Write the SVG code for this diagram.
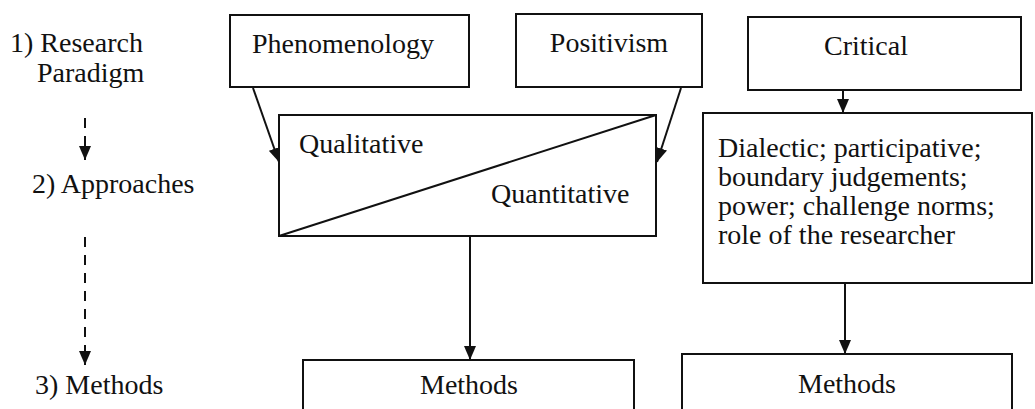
<svg xmlns="http://www.w3.org/2000/svg" width="1035" height="409" viewBox="0 0 1035 409">
  <style>
    .t { font-family: 'Times New Roman', Times, 'Liberation Serif', 'DejaVu Serif', serif; font-size: 28px; fill: #111; }
    .box { fill: #fff; stroke: #111; stroke-width: 2; }
    .wire { fill: none; stroke: #111; stroke-width: 2; }
    .dash { stroke-dasharray: 10 8; }
    .mid { text-anchor: middle; }
  </style>
  <defs>
    <marker id="head" viewBox="0 0 14 12" refX="14" refY="6" markerWidth="14" markerHeight="12" markerUnits="userSpaceOnUse" orient="auto">
      <path d="M0,0 L14,6 L0,12 z" fill="#111"/>
    </marker>
  </defs>
  <rect width="1035" height="409" fill="#fff"/>

  <!-- level labels -->
  <g id="labels" class="t">
    <text x="10" y="52">1) Research</text>
    <text x="37" y="82">Paradigm</text>
    <text x="32" y="193">2) Approaches</text>
    <text x="35" y="394">3) Methods</text>
  </g>

  <!-- connectors -->
  <g id="connectors">
    <line class="wire dash" x1="85" y1="118" x2="85" y2="160" marker-end="url(#head)"/>
    <line class="wire dash" x1="85" y1="237" x2="85" y2="365" marker-end="url(#head)"/>
    <line class="wire" x1="253" y1="88" x2="279" y2="162" marker-end="url(#head)"/>
    <line class="wire" x1="681" y1="88" x2="657" y2="162" marker-end="url(#head)"/>
    <line class="wire" x1="843" y1="90" x2="843" y2="113" marker-end="url(#head)"/>
    <line class="wire" x1="470" y1="236" x2="470" y2="360" marker-end="url(#head)"/>
    <line class="wire" x1="845" y1="283" x2="845" y2="354" marker-end="url(#head)"/>
  </g>

  <g id="phenomenology" class="t">
    <rect class="box" x="230" y="15" width="239" height="72"/>
    <text x="252" y="53">Phenomenology</text>
  </g>

  <g id="positivism" class="t">
    <rect class="box" x="516" y="14" width="186" height="73"/>
    <text x="609" y="52" class="mid">Positivism</text>
  </g>

  <g id="critical" class="t">
    <rect class="box" x="748" y="17" width="273" height="73"/>
    <text x="866" y="55" class="mid">Critical</text>
  </g>

  <g id="approaches" class="t">
    <rect class="box" x="279" y="115" width="377" height="121"/>
    <line class="wire" x1="279" y1="236" x2="656" y2="115"/>
    <text x="299" y="153">Qualitative</text>
    <text x="491" y="203">Quantitative</text>
  </g>

  <g id="critical-approach" class="t">
    <rect class="box" x="703" y="113" width="329" height="170"/>
    <text x="718" y="157">Dialectic; participative;</text>
    <text x="718" y="186">boundary judgements;</text>
    <text x="718" y="215">power; challenge norms;</text>
    <text x="718" y="244">role of the researcher</text>
  </g>

  <g id="methods-left" class="t">
    <rect class="box" x="303" y="360" width="331" height="70"/>
    <text x="469" y="394" class="mid">Methods</text>
  </g>

  <g id="methods-right" class="t">
    <rect class="box" x="682" y="354" width="330" height="70"/>
    <text x="847" y="393" class="mid">Methods</text>
  </g>
</svg>
